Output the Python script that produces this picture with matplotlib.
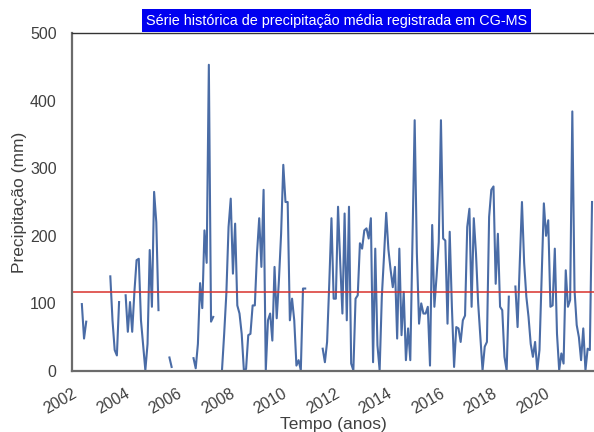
import numpy as np
import matplotlib
matplotlib.use("Agg")
import matplotlib.pyplot as plt

plt.rcParams['font.family'] = ['Liberation Sans', 'DejaVu Sans']

nan = np.nan
# precipitação mensal (mm), jan/2002 a dez/2021 -- uma linha por ano
precip_mm = [
    nan, nan, nan, nan, 99, 48, 73, nan, nan, nan, nan, nan,          # 2002
    nan, nan, nan, nan, nan, 140, 75, 31, 23, 102, nan, nan,          # 2003
    112, 58, 102, 58, 117, 164, 166, 75, 38, 1, 40, 179,             # 2004
    95, 265, 220, 90, nan, nan, nan, nan, 20, 6, nan, nan,            # 2005
    nan, nan, nan, nan, nan, nan, nan, 19, 4, 40, 130, 93,            # 2006
    208, 160, 453, 73, 80, nan, nan, nan, 1, 55, 115, 213,            # 2007
    255, 144, 218, 97, 85, 55, 1, 3, 53, 55, 97, 97,                 # 2008
    174, 226, 154, 268, 1, 75, 85, 45, 154, 78, 134, 203,            # 2009
    305, 250, 250, 75, 107, 75, 8, 16, 1, 122, 122, nan,             # 2010
    nan, nan, nan, nan, nan, nan, 33, 13, 43, 130, 226, 107,          # 2011
    107, 243, 160, 85, 233, 75, 243, 11, 1, 107, 112, 189,           # 2012
    181, 208, 211, 196, 226, 13, 181, 38, 1, 110, 170, 234,          # 2013
    180, 150, 124, 154, 48, 181, 53, 117, 16, 63, 16, 190,           # 2014
    371, 174, 70, 100, 85, 85, 95, 8, 216, 95, 140, 191,             # 2015
    371, 196, 193, 70, 206, 95, 6, 65, 63, 43, 75, 82,               # 2016
    213, 240, 95, 226, 174, 100, 50, 1, 36, 43, 228, 268,            # 2017
    273, 129, 203, 95, 90, 21, 1, 110, nan, nan, 125, 65,             # 2018
    160, 250, 160, 110, 80, 40, 21, 43, 1, 31, 140, 248,             # 2019
    200, 223, 95, 97, 181, 55, 1, 26, 11, 149, 95, 105,              # 2020
    384, 120, 68, 50, 16, 63, 1, 33, 31, 250, nan, nan,               # 2021
]
media_mm = 116.5
anos_ticks = [2002, 2004, 2006, 2008, 2010, 2012, 2014, 2016, 2018, 2020]

meses = np.arange(len(precip_mm)) + 0.5

fig = plt.figure(figsize=(5.94, 4.32), dpi=100)
ax = fig.add_axes([0.1212, 0.1412, 0.8788, 0.7824])

ax.plot(meses, precip_mm, color='#4a6ca6', linewidth=1.5)
ax.axhline(media_mm, color='#d8322c', linewidth=1.1)

ax.set_xlim(0, 238.4)
ax.set_ylim(0, 500)
ax.set_yticks(range(0, 501, 100))
ax.set_xticks([(a - 2002) * 12 for a in anos_ticks])
ax.set_xticklabels([str(a) for a in anos_ticks], rotation=30, ha='right',
                   va='top', rotation_mode='anchor')
ax.tick_params(length=0, labelsize=11.5, labelcolor='#404040')
ax.tick_params(axis='y', pad=11)
ax.tick_params(axis='x', pad=11)

for s in ['left', 'bottom']:
    ax.spines[s].set_color('#6b6b6b')
    ax.spines[s].set_linewidth(1.6)
ax.spines['top'].set_color('#333333')
ax.spines['top'].set_linewidth(1.0)
ax.spines['right'].set_visible(False)

ax.set_ylabel('Precipitação (mm)', fontsize=12.5, color='#404040', labelpad=2)
ax.set_xlabel('Tempo (anos)', fontsize=12.5, color='#404040', labelpad=0)

fig.text(0.5665, 0.9525, 'Série histórica de precipitação média registrada em CG-MS',
         ha='center', va='center', color='white', fontsize=10.4,
         bbox=dict(boxstyle='square,pad=0.3', fc='#0000f0', ec='none'))

fig.savefig('out.png', dpi=100)
